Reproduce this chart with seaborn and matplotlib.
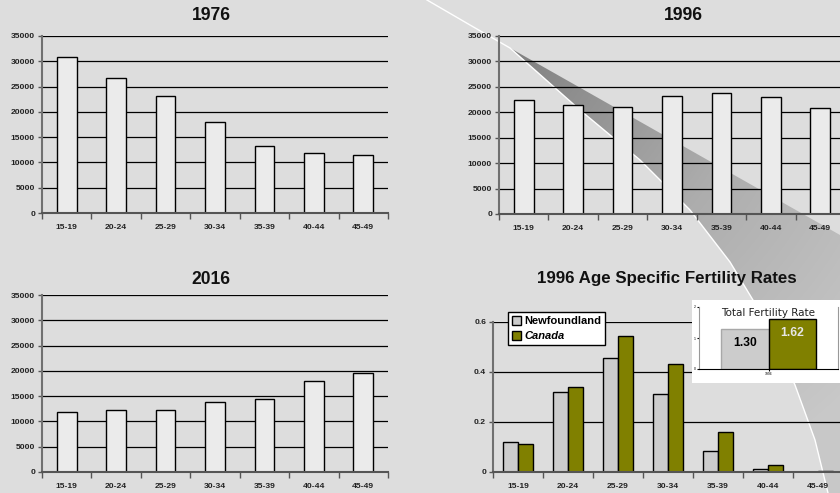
import numpy as np
import pandas as pd
import seaborn as sns
import matplotlib.pyplot as plt
from matplotlib import font_manager
from matplotlib.colors import LinearSegmentedColormap
from matplotlib.patches import Polygon, Rectangle

age_groups = ["15-19", "20-24", "25-29", "30-34", "35-39", "40-44", "45-49"]
births_1976 = [30800, 26600, 23200, 17900, 13300, 11900, 11400]
births_1996 = [22400, 21400, 21000, 23300, 23800, 23100, 20900]
births_2016 = [11900, 12200, 12200, 13900, 14400, 18000, 19600]
regions = ["Newfoundland", "Canada"]
asfr_newfoundland = [0.120, 0.319, 0.458, 0.313, 0.084, 0.011, 0.0]
asfr_canada = [0.111, 0.341, 0.546, 0.434, 0.162, 0.028, 0.003]
tfr_year = ["1996"]
tfr_values = [1.30, 1.62]

BG = "#dddddd"
BAR = "#ebebeb"
NF_GRAY = "#cccccc"
OLIVE = "#808000"

# narrow Arial look if available, otherwise plain Liberation Sans a bit smaller
names = {f.name for f in font_manager.fontManager.ttflist}
if "Liberation Sans Narrow" in names:
    NARROW, K = "Liberation Sans Narrow", 1.0
else:
    NARROW, K = "Liberation Sans", 0.87
plt.rcParams["font.family"] = [NARROW, "DejaVu Sans"]

W, H = 840, 493
fig = plt.figure(figsize=(8.4, 4.93), dpi=100)
fig.patch.set_facecolor(BG)


def px_axes(left, top, right, bottom, **kw):
    return fig.add_axes([left / W, 1 - bottom / H, (right - left) / W, (bottom - top) / H], **kw)


# slide decoration: grey swoosh behind the charts
bg = px_axes(0, 0, W, H)
bg.set_xlim(0, W)
bg.set_ylim(H, 0)
bg.axis("off")
curve = np.array([[427, 0], [470, 25], [510, 48], [580, 110], [640, 160], [690, 210],
                  [730, 262], [765, 320], [795, 385], [815, 440], [828, 493]])
wedge = Polygon(np.vstack([curve[2:], [[W, H], [W, 235]]]), closed=True,
                facecolor="none", edgecolor="none")
bg.add_patch(wedge)
gx, gy = np.meshgrid(np.arange(W), np.arange(H))
shade = LinearSegmentedColormap.from_list("shade", ["#808080", "#adadad", "#c8c8c8"])
img = bg.imshow(np.hypot(gx - 510, gy - 48), cmap=shade, vmin=0, vmax=480,
                extent=(0, W, H, 0), aspect="auto")
img.set_clip_path(wedge)
bg.plot(curve[:, 0], curve[:, 1], color="white", lw=1)


def style(ax, ymax, step, fmt):
    ax.set_facecolor("none")
    ax.set_xlim(-0.5, len(age_groups) - 0.5)
    ax.set_ylim(0, ymax)
    yt = np.arange(0, ymax + step / 2, step)
    ax.set_yticks(yt)
    ax.set_yticklabels([fmt(v) for v in yt])
    for v in yt[1:]:
        ax.axhline(v, color="black", lw=0.9, zorder=0.5)
    ax.set_xticks(range(len(age_groups)))
    ax.set_xticklabels(age_groups)
    ax.set_xticks(np.arange(-0.5, len(age_groups)), minor=True)
    ax.tick_params(axis="x", which="major", length=0, pad=8)
    ax.tick_params(axis="x", which="minor", length=4, width=1, color="#555555")
    ax.tick_params(axis="y", length=3, width=1, color="#555555", pad=2)
    for lab in ax.get_xticklabels() + ax.get_yticklabels():
        lab.set_fontsize(7 * K)
        lab.set_fontweight("bold")
        lab.set_color("#222222")
    for s in ["top", "right"]:
        ax.spines[s].set_visible(False)
    ax.spines["left"].set_color("#707070")
    ax.spines["left"].set_linewidth(1.5)
    ax.spines["bottom"].set_color("#555555")
    ax.spines["bottom"].set_linewidth(1.5)
    ax.set_xlabel("")
    ax.set_ylabel("")


panels = [
    ("1976", births_1976, (42, 36, 388, 213), (211, 15)),
    ("1996", births_1996, (499, 36, 845, 214), (683, 15)),
    ("2016", births_2016, (42, 295, 388, 472), (211, 279)),
]
for title, values, box, tpos in panels:
    ax = px_axes(*box)
    df = pd.DataFrame({"age": age_groups, "births": values})
    sns.barplot(data=df, x="age", y="births", color=BAR, edgecolor="black",
                linewidth=1, width=0.4, saturation=1, ax=ax, zorder=2)
    style(ax, 35000, 5000, lambda v: f"{int(v)}")
    fig.text(tpos[0] / W, 1 - tpos[1] / H, title, ha="center", va="center",
             fontsize=14.5 * K, fontweight="bold", color="#111111")

# 1996 age specific fertility rates
ax = px_axes(493, 322, 843, 472)
df_asfr = pd.DataFrame({
    "age": age_groups * 2,
    "rate": asfr_newfoundland + asfr_canada,
    "region": [regions[0]] * len(age_groups) + [regions[1]] * len(age_groups),
})
sns.barplot(data=df_asfr, x="age", y="rate", hue="region", hue_order=regions,
            palette=[NF_GRAY, OLIVE], edgecolor="black", linewidth=1, width=0.6,
            saturation=1, ax=ax, zorder=2)
style(ax, 0.6, 0.2, lambda v: "0" if v == 0 else f"{v:.1f}")
handles, labels = ax.get_legend_handles_labels()
leg = ax.legend(handles, labels, loc="upper left", bbox_to_anchor=(0.043, 1.067),
                frameon=True, fancybox=False, framealpha=1, edgecolor="black",
                handlelength=0.85, handleheight=0.85, handletextpad=0.25,
                borderpad=0.35, labelspacing=0.45, borderaxespad=0,
                prop={"family": "Liberation Sans", "weight": "bold", "size": 8})
leg.get_frame().set_linewidth(1)
leg.get_texts()[1].set_fontstyle("italic")
fig.text(667 / W, 1 - 279 / H, "1996 Age Specific Fertility Rates", ha="center",
         va="center", fontsize=14.5 * 0.84, fontweight="bold", color="#111111")

# inset: total fertility rate
fig.add_artist(Rectangle((692 / W, 1 - 383 / H), 148 / W, 83 / H,
                         transform=fig.transFigure, facecolor="white",
                         edgecolor="none", zorder=3))
axi = px_axes(699, 307, 838, 369, zorder=4)
axi.set_facecolor("white")
df_tfr = pd.DataFrame({"year": tfr_year * 2, "tfr": tfr_values, "region": regions})
sns.barplot(data=df_tfr, x="year", y="tfr", hue="region", hue_order=regions,
            palette=[NF_GRAY, OLIVE], edgecolor="black", linewidth=1, width=0.68,
            saturation=1, legend=False, ax=axi)
axi.set_ylim(0, 2)
axi.set_xlim(-0.5, 0.5)
axi.set_yticks([0, 1, 2])
axi.tick_params(axis="both", labelsize=2.5, length=1.5, pad=1)
axi.set_xlabel("")
axi.set_ylabel("")
axi.spines["top"].set_visible(False)
for s in ["left", "right"]:
    axi.spines[s].set_color("#999999")
axi.spines["bottom"].set_color("black")
# value labels inside the top of each bar, taken from the drawn patches
for cont, text_col, edge_col in zip(axi.containers, ["black", "#e6e6e6"], ["#a8a8a8", "black"]):
    for p in cont:
        p.set_edgecolor(edge_col)
        h = p.get_height()
        axi.annotate(f"{h:.2f}", (p.get_x() + p.get_width() / 2, h),
                     xytext=(0, -10), textcoords="offset points", ha="center",
                     va="center", fontsize=10 * K, fontweight="bold",
                     color=text_col, zorder=5)
axi.text(0.5, 0.9, "Total Fertility Rate", transform=axi.transAxes, ha="center",
         va="center", fontsize=7.5, family="DejaVu Sans", color="#222222")

fig.savefig("out.png", dpi=100, facecolor=BG)
